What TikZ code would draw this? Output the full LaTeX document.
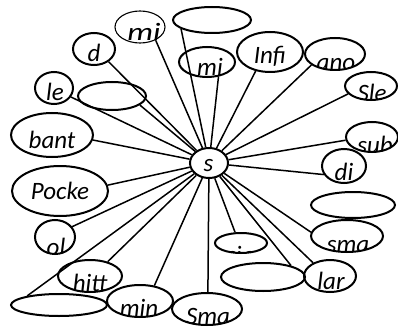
\documentclass[tikz,border=0pt]{standalone}
\usepackage{fontspec}
\setmainfont{Carlito}
\usetikzlibrary{shapes.geometric}

% bubble: name, cx, cy, rx, ry -- an empty ellipse node
\newcommand{\bubble}[6][]{%
  \node[bub,#1,minimum width={2*#5},minimum height={2*#6}] (#2) at (#3,#4) {};}
% clipped word inside a bubble: name, cx, cy, rx, ry, text x, baseline y, text
\newcommand{\bubtext}[8]{%
  \begin{scope}
    \clip (#2,#3) ellipse [x radius=#4pt, y radius=#5pt];
    \node[lbl] (t#1) at (#6,#7) {#8};
  \end{scope}}

\tikzset{
  bub/.style={ellipse,draw,line width=2pt,inner sep=0pt},
  thinbub/.style={line width=1.1pt},
  lbl/.style={anchor=base,inner sep=0pt,font=\fontsize{25}{30}\selectfont\itshape},
  edge/.style={line width=1.5pt},
}

\begin{document}
\begin{tikzpicture}[x=1pt,y=-1pt]
\useasboundingbox (0,0) rectangle (398,326);

% hub
\bubble{s}{209}{163}{19}{15}
\bubtext{s}{209}{163}{19}{15}{208.5}{171}{s}

% outer bubbles
\bubble[thinbub]{miA}{140}{27}{25}{16}
\bubble{topB}{212}{20}{39}{13}
\bubble{miB}{207}{62}{28}{15}
\bubble{infi}{270}{52}{33}{20}
\bubble{ano}{335}{54}{30}{16}
\bubble{sle}{371}{86}{26}{14}
\bubble{sub}{372}{137}{26}{15}
\bubble{di}{344}{166}{22}{17}
\bubble{rB}{353}{205}{42}{13}
\bubble{sma}{347}{236}{36}{16}
\bubble{lar}{330}{276}{26}{16}
\bubble{bB}{263}{277}{42}{14}
\bubble{cia}{241}{243}{26}{10}
\bubble{Sma}{207}{309}{35}{16}
\bubble{min}{140}{301}{33}{16}
\bubble{blB}{59}{305}{48}{11}
\bubble{hitt}{90}{276}{32}{16}
\bubble{ol}{55}{237}{20}{17}
\bubble{pocke}{60}{191}{48}{25}
\bubble{bant}{52}{135}{41}{22}
\bubble{le}{54}{88}{19}{16}
\bubble{lB}{112}{96}{34}{14}
\bubble{d}{94}{49}{21}{16}

% words, cut off by their bubbles
\bubtext{miA}{140}{27}{25}{16}{144}{41}{\scalebox{1.3}[1]{mi}}
\bubtext{miB}{207}{62}{28}{15}{210}{76}{mi}
\bubtext{infi}{270}{52}{33}{20}{270}{64}{Infi}
\bubtext{ano}{335}{54}{30}{16}{336}{71}{ano}
\bubtext{sle}{371}{86}{26}{14}{372}{101}{Sle}
\bubtext{sub}{372}{137}{26}{15}{375}{153}{sub}
\bubtext{di}{344}{166}{22}{17}{344}{180}{di}
\bubtext{sma}{347}{236}{36}{16}{348}{252}{sma}
\bubtext{lar}{330}{276}{26}{16}{331}{289}{lar}
\bubtext{cia}{241}{243}{26}{10}{240}{263}{cia}
\bubtext{Sma}{207}{309}{35}{16}{208}{324}{Sma}
\bubtext{min}{140}{301}{33}{16}{139}{316}{min}
\bubtext{hitt}{90}{276}{32}{16}{90}{291}{hitt}
\bubtext{ol}{55}{237}{20}{17}{56}{255}{ol}
\bubtext{pocke}{60}{191}{48}{25}{60}{199}{Pocke}
\bubtext{bant}{52}{135}{41}{22}{52}{148}{bant}
\bubtext{le}{54}{88}{19}{16}{55}{100}{le}
\bubtext{d}{94}{49}{21}{16}{94}{62}{d}

% spokes from the hub
\foreach \n/\a in {miA/-40, topB/196, miB/-52, infi/233, ano/205, sle/199,
                   sub/187, di/203, sma/174, lar/142, bB/22, cia/119,
                   Sma/87, min/47, blB/164, hitt/39, ol/31, pocke/7,
                   bant/-7, le/-28, lB/-18, d/-41}
  \draw[edge] (s) -- (\n.\a);
\end{tikzpicture}
\end{document}
